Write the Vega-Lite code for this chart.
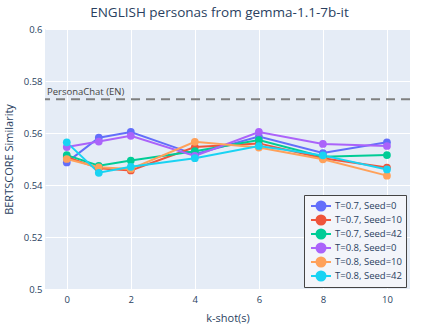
{
  "$schema": "https://vega.github.io/schema/vega-lite/v6.json",
  "autosize": "none",
  "width": 365,
  "height": 260,
  "padding": {"left": 45, "top": 29, "right": 29, "bottom": 40},
  "background": "white",
  "title": {"text": "ENGLISH personas from gemma-1.1-7b-it", "fontSize": 13.5, "fontWeight": "normal", "font": "Open Sans", "color": "#2a3f5f", "anchor": "middle", "dx": -8, "offset": 5},
  "config": {
    "view": {"fill": "#E5ECF6", "stroke": null},
    "font": "Open Sans",
    "axis": {"domain": false, "ticks": false, "gridColor": "white", "gridWidth": 1, "labelColor": "#2a3f5f", "labelFontSize": 9.5, "titleColor": "#2a3f5f", "titleFontSize": 11, "titleFontWeight": "normal"}
  },
  "data": {"values": [
    {"k": 0, "v": 0.5487, "s": "T=0.7, Seed=0"},
    {"k": 1, "v": 0.5582, "s": "T=0.7, Seed=0"},
    {"k": 2, "v": 0.5604, "s": "T=0.7, Seed=0"},
    {"k": 4, "v": 0.5518, "s": "T=0.7, Seed=0"},
    {"k": 6, "v": 0.5586, "s": "T=0.7, Seed=0"},
    {"k": 8, "v": 0.5523, "s": "T=0.7, Seed=0"},
    {"k": 10, "v": 0.5564, "s": "T=0.7, Seed=0"},
    {"k": 0, "v": 0.5508, "s": "T=0.7, Seed=10"},
    {"k": 1, "v": 0.5464, "s": "T=0.7, Seed=10"},
    {"k": 2, "v": 0.5456, "s": "T=0.7, Seed=10"},
    {"k": 4, "v": 0.5546, "s": "T=0.7, Seed=10"},
    {"k": 6, "v": 0.5560, "s": "T=0.7, Seed=10"},
    {"k": 8, "v": 0.5503, "s": "T=0.7, Seed=10"},
    {"k": 10, "v": 0.5467, "s": "T=0.7, Seed=10"},
    {"k": 0, "v": 0.5515, "s": "T=0.7, Seed=42"},
    {"k": 1, "v": 0.5474, "s": "T=0.7, Seed=42"},
    {"k": 2, "v": 0.5494, "s": "T=0.7, Seed=42"},
    {"k": 4, "v": 0.5530, "s": "T=0.7, Seed=42"},
    {"k": 6, "v": 0.5573, "s": "T=0.7, Seed=42"},
    {"k": 8, "v": 0.5509, "s": "T=0.7, Seed=42"},
    {"k": 10, "v": 0.5515, "s": "T=0.7, Seed=42"},
    {"k": 0, "v": 0.5546, "s": "T=0.8, Seed=0"},
    {"k": 1, "v": 0.5567, "s": "T=0.8, Seed=0"},
    {"k": 2, "v": 0.5589, "s": "T=0.8, Seed=0"},
    {"k": 4, "v": 0.5512, "s": "T=0.8, Seed=0"},
    {"k": 6, "v": 0.5604, "s": "T=0.8, Seed=0"},
    {"k": 8, "v": 0.5558, "s": "T=0.8, Seed=0"},
    {"k": 10, "v": 0.5550, "s": "T=0.8, Seed=0"},
    {"k": 0, "v": 0.5500, "s": "T=0.8, Seed=10"},
    {"k": 1, "v": 0.5468, "s": "T=0.8, Seed=10"},
    {"k": 2, "v": 0.5462, "s": "T=0.8, Seed=10"},
    {"k": 4, "v": 0.5566, "s": "T=0.8, Seed=10"},
    {"k": 6, "v": 0.5544, "s": "T=0.8, Seed=10"},
    {"k": 8, "v": 0.5499, "s": "T=0.8, Seed=10"},
    {"k": 10, "v": 0.5436, "s": "T=0.8, Seed=10"},
    {"k": 0, "v": 0.5564, "s": "T=0.8, Seed=42"},
    {"k": 1, "v": 0.5447, "s": "T=0.8, Seed=42"},
    {"k": 2, "v": 0.5470, "s": "T=0.8, Seed=42"},
    {"k": 4, "v": 0.5503, "s": "T=0.8, Seed=42"},
    {"k": 6, "v": 0.5550, "s": "T=0.8, Seed=42"},
    {"k": 8, "v": 0.5514, "s": "T=0.8, Seed=42"},
    {"k": 10, "v": 0.5460, "s": "T=0.8, Seed=42"}
  ]},
  "encoding": {
    "x": {"field": "k", "type": "quantitative", "scale": {"domain": [-0.68, 10.72], "nice": false, "zero": false},
          "axis": {"values": [0, 2, 4, 6, 8, 10], "title": "k-shot(s)", "labelPadding": 5, "titlePadding": 9}},
    "y": {"field": "v", "type": "quantitative", "scale": {"domain": [0.5, 0.6], "nice": false, "zero": false},
          "axis": {"values": [0.5, 0.52, 0.54, 0.56, 0.58, 0.6], "format": ".2~f", "title": "BERTSCORE Similarity", "labelPadding": 3, "titlePadding": 9}}
  },
  "layer": [
    {
      "data": {"values": [{"ref": 0.573, "xmin": -0.68, "label": "PersonaChat (EN)"}]},
      "mark": {"type": "rule", "color": "#808080", "strokeWidth": 2, "strokeDash": [9, 6]},
      "encoding": {"y": {"field": "ref", "type": "quantitative"}, "x": null}
    },
    {
      "data": {"values": [{"ref": 0.573, "xmin": -0.68, "label": "PersonaChat (EN)"}]},
      "mark": {"type": "text", "align": "left", "baseline": "alphabetic", "dx": 2, "dy": -4, "fontSize": 9.5, "color": "#444"},
      "encoding": {"y": {"field": "ref", "type": "quantitative"}, "x": {"field": "xmin", "type": "quantitative"}, "text": {"field": "label"}}
    },
    {
      "mark": {"type": "line", "strokeWidth": 2},
      "encoding": {
        "color": {"field": "s", "type": "nominal",
          "scale": {"domain": ["T=0.7, Seed=0", "T=0.7, Seed=10", "T=0.7, Seed=42", "T=0.8, Seed=0", "T=0.8, Seed=10", "T=0.8, Seed=42"],
                    "range": ["#636EFA", "#EF553B", "#00CC96", "#AB63FA", "#FFA15A", "#19D3F3"]},
          "legend": {
            "title": null, "orient": "none", "legendX": 259, "legendY": 166,
            "padding": 4, "rowPadding": 0, "clipHeight": 14, "symbolOffset": 7, "labelOffset": 8,
            "symbolType": "M-2,0L2,0M-0.9,0A0.9,0.9,0,1,0,0.9,0A0.9,0.9,0,1,0,-0.9,0Z",
            "symbolSize": 100, "symbolStrokeWidth": 2,
            "labelFontSize": 9.5, "labelColor": "#2a3f5f", "labelFont": "Open Sans",
            "fillColor": "#F3F5FA", "strokeColor": "#444444",
            "encode": {"symbols": {"update": {"fill": {"scale": "color", "field": "value"}, "stroke": {"scale": "color", "field": "value"}, "strokeWidth": {"value": 2}, "opacity": {"value": 1}}}}
          }
        }
      }
    },
    {
      "mark": {"type": "point", "filled": true, "size": 60, "opacity": 1},
      "encoding": {"color": {"field": "s", "type": "nominal"}}
    }
  ]
}
